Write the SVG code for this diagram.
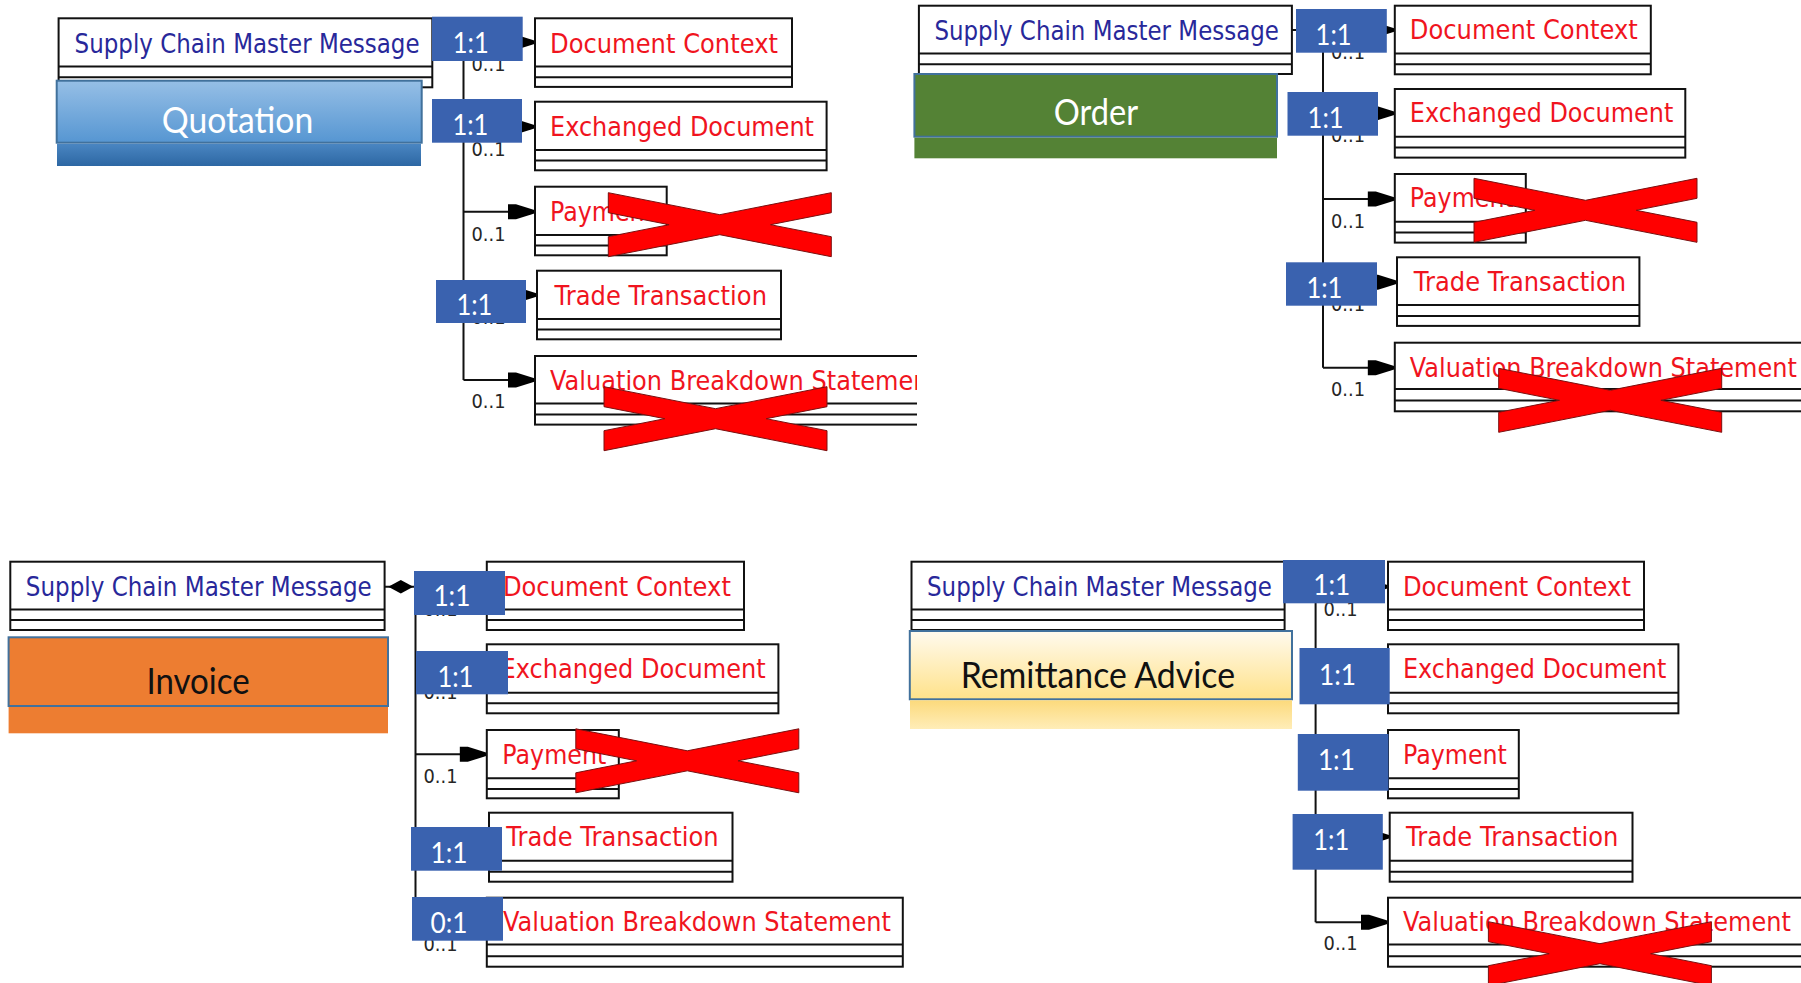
<svg xmlns="http://www.w3.org/2000/svg" xmlns:xlink="http://www.w3.org/1999/xlink" width="1801" height="983" viewBox="0 0 1801 983">
<style>
.box{fill:#fff;stroke:#111;stroke-width:2}
.row{stroke:#111;stroke-width:2}
.scm{font-family:"DejaVu Sans",Verdana,sans-serif;font-size:27px;fill:#28289A}
.red{font-family:"DejaVu Sans",Verdana,sans-serif;font-size:27px;fill:#F0141E}
.card{font-family:"DejaVu Sans",Verdana,sans-serif;font-size:19px;fill:#262626}
.badge{fill:#3A62AF}
.bt{font-family:Lato,"Open Sans",sans-serif;font-size:28px;fill:#fff}
.lbl{font-family:Lato,"Open Sans",sans-serif;font-size:36px}
.conn{stroke:#111;stroke-width:2;fill:none}
.br{stroke:#111;stroke-width:2;fill:none;marker-end:url(#arr)}
.xm{fill:#FF0000;stroke:#7A1010;stroke-width:1}
.lb{stroke:#41719C;stroke-width:2}
</style>
<defs>
<marker id="arr" markerUnits="userSpaceOnUse" viewBox="-28 -8 29 16" markerWidth="29" markerHeight="16" refX="0" refY="0" orient="auto">
<path d="M-27,-7.5 L-19,-7.5 L-3,-2.5 L0,-1.5 L0,1.5 L-3,2.5 L-19,7.5 L-27,7.5 Z" fill="#000"/>
</marker>
<polygon id="xmark" points="0,0 111.5,22 223,0 223,20 162.2,32 223,44 223,64 111.5,42 0,64 0,44 60.8,32 0,20"/>
<linearGradient id="gQ" x1="0" y1="0" x2="0" y2="1"><stop offset="0" stop-color="#96BFE6"/><stop offset="1" stop-color="#5696D2"/></linearGradient>
<linearGradient id="gQ2" x1="0" y1="0" x2="0" y2="1"><stop offset="0" stop-color="#4A86C2"/><stop offset="1" stop-color="#2D67A3"/></linearGradient>
<linearGradient id="gR" x1="0" y1="0" x2="0" y2="1"><stop offset="0" stop-color="#FFFAEE"/><stop offset="1" stop-color="#FFE28A"/></linearGradient>
<linearGradient id="gR2" x1="0" y1="0" x2="0" y2="1"><stop offset="0" stop-color="#FCDA7C"/><stop offset="1" stop-color="#FFEDB8"/></linearGradient>
<clipPath id="clipQ1"><rect x="0" y="0" width="917" height="480"/></clipPath>
</defs>
<rect x="0" y="0" width="1801" height="983" fill="#fff"/>

<!-- connectors -->
<g id="connectors">
 <!-- Q1 -->
 <path class="conn" d="M432,42.3 H463.5 V380"/>
 <path class="br" d="M463.5,42.3 H535"/>
 <path class="br" d="M463.5,126.7 H535"/>
 <path class="br" d="M463.5,211.7 H535"/>
 <path class="br" d="M463.5,295 H537"/>
 <path class="br" d="M463.5,380 H535"/>
 <text class="card" x="471.5" y="71.3" textLength="34" lengthAdjust="spacingAndGlyphs">0..1</text>
 <text class="card" x="471.5" y="155.7" textLength="34" lengthAdjust="spacingAndGlyphs">0..1</text>
 <text class="card" x="471.5" y="241" textLength="34" lengthAdjust="spacingAndGlyphs">0..1</text>
 <text class="card" x="471.5" y="324" textLength="34" lengthAdjust="spacingAndGlyphs">0..1</text>
 <text class="card" x="471.5" y="408" textLength="34" lengthAdjust="spacingAndGlyphs">0..1</text>
 <!-- Q2 -->
 <path class="conn" d="M1292,30 H1323 V367.7"/>
 <path class="br" d="M1323,30 H1394.8"/>
 <path class="br" d="M1323,113.3 H1394.8"/>
 <path class="br" d="M1323,199 H1394.8"/>
 <path class="br" d="M1323,282.3 H1397"/>
 <path class="br" d="M1323,367.7 H1394.8"/>
 <text class="card" x="1331" y="59" textLength="34" lengthAdjust="spacingAndGlyphs">0..1</text>
 <text class="card" x="1331" y="142.3" textLength="34" lengthAdjust="spacingAndGlyphs">0..1</text>
 <text class="card" x="1331" y="228.3" textLength="34" lengthAdjust="spacingAndGlyphs">0..1</text>
 <text class="card" x="1331" y="311.3" textLength="34" lengthAdjust="spacingAndGlyphs">0..1</text>
 <text class="card" x="1331" y="396" textLength="34" lengthAdjust="spacingAndGlyphs">0..1</text>
 <!-- Q3 -->
 <path class="conn" d="M384.6,586.7 H415.5 V922"/>
 <polygon points="388.3,586.7 400.8,580 413.3,586.7 400.8,593.4" fill="#000"/>
 <path class="br" d="M415.5,586.7 H486.8"/>
 <path class="br" d="M415.5,670 H486.8"/>
 <path class="br" d="M415.5,754.3 H486.8"/>
 <path class="br" d="M415.5,837 H489"/>
 <path class="br" d="M415.5,922 H486.8"/>
 <text class="card" x="423.5" y="615.7" textLength="34" lengthAdjust="spacingAndGlyphs">0..1</text>
 <text class="card" x="423.5" y="699" textLength="34" lengthAdjust="spacingAndGlyphs">0..1</text>
 <text class="card" x="423.5" y="783.3" textLength="34" lengthAdjust="spacingAndGlyphs">0..1</text>
 <text class="card" x="423.5" y="866" textLength="34" lengthAdjust="spacingAndGlyphs">0..1</text>
 <text class="card" x="423.5" y="951" textLength="34" lengthAdjust="spacingAndGlyphs">0..1</text>
 <!-- Q4 -->
 <path class="conn" d="M1284.6,586.7 H1315.6 V922.3"/>
 <path class="br" d="M1315.6,586.7 H1388"/>
 <path class="br" d="M1315.6,670 H1388"/>
 <path class="br" d="M1315.6,754.3 H1388"/>
 <path class="br" d="M1315.6,836.7 H1389.7"/>
 <path class="br" d="M1315.6,922.3 H1388"/>
 <text class="card" x="1323.6" y="615.7" textLength="34" lengthAdjust="spacingAndGlyphs">0..1</text>
 <text class="card" x="1323.6" y="699" textLength="34" lengthAdjust="spacingAndGlyphs">0..1</text>
 <text class="card" x="1323.6" y="783.3" textLength="34" lengthAdjust="spacingAndGlyphs">0..1</text>
 <text class="card" x="1323.6" y="865.7" textLength="34" lengthAdjust="spacingAndGlyphs">0..1</text>
 <text class="card" x="1323.6" y="949.5" textLength="34" lengthAdjust="spacingAndGlyphs">0..1</text>
</g>

<!-- ===== Quadrant 1: Quotation ===== -->
<g id="q1">
 <g id="q1-scmm"><rect class="box" x="58.6" y="18.3" width="373.7" height="69"/><line class="row" x1="58.6" y1="66.5" x2="432.3" y2="66.5"/><line class="row" x1="58.6" y1="77.2" x2="432.3" y2="77.2"/><text class="scm" x="74.6" y="53.3" textLength="345" lengthAdjust="spacingAndGlyphs">Supply Chain Master Message</text></g>
 <g id="q1-label"><rect x="56.7" y="80.7" width="365" height="62" fill="url(#gQ)" class="lb"/><rect x="57" y="143.7" width="364" height="22.3" fill="url(#gQ2)"/><text class="lbl" x="161.7" y="132.7" fill="#fff" textLength="151.6" lengthAdjust="spacingAndGlyphs">Quotation</text></g>
 <g id="q1-doc"><rect class="box" x="535" y="18.3" width="257" height="68.6"/><line class="row" x1="535" y1="66.5" x2="792" y2="66.5"/><line class="row" x1="535" y1="77.2" x2="792" y2="77.2"/><text class="red" x="550" y="52.8" textLength="228" lengthAdjust="spacingAndGlyphs">Document Context</text></g>
 <g id="q1-exch"><rect class="box" x="535" y="101.7" width="291.6" height="68.6"/><line class="row" x1="535" y1="149.9" x2="826.6" y2="149.9"/><line class="row" x1="535" y1="160.6" x2="826.6" y2="160.6"/><text class="red" x="550" y="136" textLength="264" lengthAdjust="spacingAndGlyphs">Exchanged Document</text></g>
 <g id="q1-pay"><rect class="box" x="535" y="186.7" width="131.7" height="68.6"/><line class="row" x1="535" y1="234.9" x2="666.7" y2="234.9"/><line class="row" x1="535" y1="245.6" x2="666.7" y2="245.6"/><text class="red" x="550" y="220.5" textLength="104" lengthAdjust="spacingAndGlyphs">Payment</text></g>
 <g id="q1-trade"><rect class="box" x="537" y="270.7" width="244" height="68.6"/><line class="row" x1="537" y1="318.9" x2="781" y2="318.9"/><line class="row" x1="537" y1="329.6" x2="781" y2="329.6"/><text class="red" x="554.5" y="304.5" textLength="212.5" lengthAdjust="spacingAndGlyphs">Trade Transaction</text></g>
 <g id="q1-val" clip-path="url(#clipQ1)"><rect class="box" x="535" y="356" width="420" height="68.6"/><line class="row" x1="535" y1="403.5" x2="955" y2="403.5"/><line class="row" x1="535" y1="414.5" x2="955" y2="414.5"/><text class="red" x="550" y="389.5" textLength="388" lengthAdjust="spacingAndGlyphs">Valuation Breakdown Statement</text></g>
 <g id="q1-m1"><rect class="badge" x="432" y="16.7" width="90.7" height="44.3"/><text class="bt" x="452.7" y="53.3" textLength="36" lengthAdjust="spacingAndGlyphs">1:1</text></g>
 <g id="q1-m2"><rect class="badge" x="432" y="99" width="90" height="43.7"/><text class="bt" x="452.4" y="135.3" textLength="36" lengthAdjust="spacingAndGlyphs">1:1</text></g>
 <g id="q1-m4"><rect class="badge" x="436" y="280" width="90" height="43"/><text class="bt" x="456.4" y="315" textLength="36" lengthAdjust="spacingAndGlyphs">1:1</text></g>
 <use href="#xmark" class="xm" transform="translate(608.3,192.7)"/>
 <use href="#xmark" class="xm" transform="translate(604,386.7)"/>
</g>

<!-- ===== Quadrant 2: Order ===== -->
<g id="q2">
 <g id="q2-scmm"><rect class="box" x="918.9" y="5.7" width="373" height="68.3"/><line class="row" x1="918.9" y1="53.5" x2="1291.9" y2="53.5"/><line class="row" x1="918.9" y1="64.3" x2="1291.9" y2="64.3"/><text class="scm" x="934.4" y="40" textLength="344.5" lengthAdjust="spacingAndGlyphs">Supply Chain Master Message</text></g>
 <g id="q2-label"><rect x="914.4" y="74" width="362.6" height="62.7" fill="#548235" class="lb"/><rect x="914.4" y="137.7" width="362.6" height="20.6" fill="#548235"/><text class="lbl" x="1053.8" y="125" fill="#fff" textLength="84.4" lengthAdjust="spacingAndGlyphs">Order</text></g>
 <g id="q2-doc"><rect class="box" x="1394.8" y="5.7" width="256" height="68.6"/><line class="row" x1="1394.8" y1="53.5" x2="1650.8" y2="53.5"/><line class="row" x1="1394.8" y1="64.3" x2="1650.8" y2="64.3"/><text class="red" x="1409.8" y="38.8" textLength="228" lengthAdjust="spacingAndGlyphs">Document Context</text></g>
 <g id="q2-exch"><rect class="box" x="1394.8" y="89" width="290.5" height="68.6"/><line class="row" x1="1394.8" y1="136.8" x2="1685.3" y2="136.8"/><line class="row" x1="1394.8" y1="147.6" x2="1685.3" y2="147.6"/><text class="red" x="1409.8" y="122" textLength="263.5" lengthAdjust="spacingAndGlyphs">Exchanged Document</text></g>
 <g id="q2-pay"><rect class="box" x="1394.8" y="174" width="131" height="68.6"/><line class="row" x1="1394.8" y1="221.8" x2="1525.8" y2="221.8"/><line class="row" x1="1394.8" y1="232.6" x2="1525.8" y2="232.6"/><text class="red" x="1409.8" y="207" textLength="104" lengthAdjust="spacingAndGlyphs">Payment</text></g>
 <g id="q2-trade"><rect class="box" x="1397" y="257.3" width="242.4" height="68.6"/><line class="row" x1="1397" y1="305.1" x2="1639.4" y2="305.1"/><line class="row" x1="1397" y1="316" x2="1639.4" y2="316"/><text class="red" x="1413.8" y="291" textLength="212.4" lengthAdjust="spacingAndGlyphs">Trade Transaction</text></g>
 <g id="q2-val"><rect class="box" x="1394.8" y="342.7" width="420" height="68.6"/><line class="row" x1="1394.8" y1="389" x2="1814.8" y2="389"/><line class="row" x1="1394.8" y1="400.5" x2="1814.8" y2="400.5"/><text class="red" x="1409.8" y="376.5" textLength="387" lengthAdjust="spacingAndGlyphs">Valuation Breakdown Statement</text></g>
 <g id="q2-m1"><rect class="badge" x="1296" y="9" width="90.8" height="43.7"/><text class="bt" x="1315.6" y="45" textLength="36" lengthAdjust="spacingAndGlyphs">1:1</text></g>
 <g id="q2-m2"><rect class="badge" x="1287.5" y="92" width="90.5" height="43.7"/><text class="bt" x="1307.6" y="128" textLength="36" lengthAdjust="spacingAndGlyphs">1:1</text></g>
 <g id="q2-m4"><rect class="badge" x="1286" y="262.3" width="91" height="43.4"/><text class="bt" x="1306.4" y="298" textLength="36" lengthAdjust="spacingAndGlyphs">1:1</text></g>
 <use href="#xmark" class="xm" transform="translate(1474,178.3)"/>
 <use href="#xmark" class="xm" transform="translate(1498.7,368.3)"/>
</g>

<!-- ===== Quadrant 3: Invoice ===== -->
<g id="q3">
 <g id="q3-scmm"><rect class="box" x="10.3" y="561.7" width="374.3" height="68.3"/><line class="row" x1="10.3" y1="609.4" x2="384.6" y2="609.4"/><line class="row" x1="10.3" y1="620" x2="384.6" y2="620"/><text class="scm" x="25.8" y="595.5" textLength="346" lengthAdjust="spacingAndGlyphs">Supply Chain Master Message</text></g>
 <g id="q3-label"><rect x="8.6" y="637.3" width="379.4" height="68.7" fill="#ED7D31" class="lb"/><rect x="8.6" y="707" width="379.4" height="26.3" fill="#ED7D31"/><text class="lbl" x="146.4" y="694" fill="#111" textLength="103.3" lengthAdjust="spacingAndGlyphs">Invoice</text></g>
 <g id="q3-doc"><rect class="box" x="486.8" y="561.7" width="257.2" height="68.3"/><line class="row" x1="486.8" y1="609.4" x2="744" y2="609.4"/><line class="row" x1="486.8" y1="620" x2="744" y2="620"/><text class="red" x="502.9" y="595.5" textLength="228" lengthAdjust="spacingAndGlyphs">Document Context</text></g>
 <g id="q3-exch"><rect class="box" x="486.8" y="644.3" width="291.6" height="69"/><line class="row" x1="486.8" y1="692.7" x2="778.4" y2="692.7"/><line class="row" x1="486.8" y1="703.3" x2="778.4" y2="703.3"/><text class="red" x="500.6" y="677.5" textLength="265" lengthAdjust="spacingAndGlyphs">Exchanged Document</text></g>
 <g id="q3-pay"><rect class="box" x="486.8" y="730" width="132" height="68.3"/><line class="row" x1="486.8" y1="778.3" x2="618.8" y2="778.3"/><line class="row" x1="486.8" y1="789" x2="618.8" y2="789"/><text class="red" x="502.3" y="764" textLength="104" lengthAdjust="spacingAndGlyphs">Payment</text></g>
 <g id="q3-trade"><rect class="box" x="489" y="812.7" width="243.5" height="69"/><line class="row" x1="489" y1="860.7" x2="732.5" y2="860.7"/><line class="row" x1="489" y1="871.7" x2="732.5" y2="871.7"/><text class="red" x="506.3" y="845.5" textLength="212.4" lengthAdjust="spacingAndGlyphs">Trade Transaction</text></g>
 <g id="q3-val"><rect class="box" x="486.8" y="897.7" width="416" height="69"/><line class="row" x1="486.8" y1="944.5" x2="902.8" y2="944.5"/><line class="row" x1="486.8" y1="956.3" x2="902.8" y2="956.3"/><text class="red" x="502.9" y="931" textLength="388" lengthAdjust="spacingAndGlyphs">Valuation Breakdown Statement</text></g>
 <g id="q3-m1"><rect class="badge" x="414" y="571" width="91" height="44"/><text class="bt" x="433.4" y="606" textLength="37" lengthAdjust="spacingAndGlyphs">1:1</text></g>
 <g id="q3-m2"><rect class="badge" x="416" y="651" width="92" height="43.3"/><text class="bt" x="437.4" y="686.5" textLength="36" lengthAdjust="spacingAndGlyphs">1:1</text></g>
 <g id="q3-m4"><rect class="badge" x="411" y="827" width="91" height="43.7"/><text class="bt" x="430.5" y="863" textLength="37" lengthAdjust="spacingAndGlyphs">1:1</text></g>
 <g id="q3-m5"><rect class="badge" x="412" y="897" width="91" height="43.7"/><text class="bt" x="430.5" y="933" textLength="37" lengthAdjust="spacingAndGlyphs">0:1</text></g>
 <use href="#xmark" class="xm" transform="translate(575.8,728.8)"/>
</g>

<!-- ===== Quadrant 4: Remittance Advice ===== -->
<g id="q4">
 <g id="q4-scmm"><rect class="box" x="911.5" y="561.7" width="373.1" height="68.3"/><line class="row" x1="911.5" y1="609.4" x2="1284.6" y2="609.4"/><line class="row" x1="911.5" y1="620" x2="1284.6" y2="620"/><text class="scm" x="927" y="595.5" textLength="345" lengthAdjust="spacingAndGlyphs">Supply Chain Master Message</text></g>
 <g id="q4-label"><rect x="909.8" y="631" width="382.2" height="68.3" fill="url(#gR)" class="lb"/><rect x="910" y="700.3" width="382" height="28.7" fill="url(#gR2)"/><text class="lbl" x="960.7" y="688.3" fill="#111" textLength="274.3" lengthAdjust="spacingAndGlyphs">Remittance Advice</text></g>
 <g id="q4-doc"><rect class="box" x="1388" y="561.7" width="256" height="68.3"/><line class="row" x1="1388" y1="609.4" x2="1644" y2="609.4"/><line class="row" x1="1388" y1="620" x2="1644" y2="620"/><text class="red" x="1402.9" y="595.5" textLength="228" lengthAdjust="spacingAndGlyphs">Document Context</text></g>
 <g id="q4-exch"><rect class="box" x="1388" y="644.3" width="290.4" height="69"/><line class="row" x1="1388" y1="692.7" x2="1678.4" y2="692.7"/><line class="row" x1="1388" y1="703.3" x2="1678.4" y2="703.3"/><text class="red" x="1402.9" y="677.5" textLength="263.5" lengthAdjust="spacingAndGlyphs">Exchanged Document</text></g>
 <g id="q4-pay"><rect class="box" x="1388" y="730" width="130.8" height="68.3"/><line class="row" x1="1388" y1="778.3" x2="1518.8" y2="778.3"/><line class="row" x1="1388" y1="789" x2="1518.8" y2="789"/><text class="red" x="1402.9" y="764" textLength="104" lengthAdjust="spacingAndGlyphs">Payment</text></g>
 <g id="q4-trade"><rect class="box" x="1389.7" y="812.7" width="242.8" height="69"/><line class="row" x1="1389.7" y1="860.7" x2="1632.5" y2="860.7"/><line class="row" x1="1389.7" y1="871.7" x2="1632.5" y2="871.7"/><text class="red" x="1406" y="845.5" textLength="212.4" lengthAdjust="spacingAndGlyphs">Trade Transaction</text></g>
 <g id="q4-val"><rect class="box" x="1388" y="897.7" width="420" height="69"/><line class="row" x1="1388" y1="944.5" x2="1808" y2="944.5"/><line class="row" x1="1388" y1="956.3" x2="1808" y2="956.3"/><text class="red" x="1402.9" y="931" textLength="388" lengthAdjust="spacingAndGlyphs">Valuation Breakdown Statement</text></g>
 <g id="q4-m1"><rect class="badge" x="1283" y="560" width="102" height="43.3"/><text class="bt" x="1313.3" y="595" textLength="37" lengthAdjust="spacingAndGlyphs">1:1</text></g>
 <g id="q4-m2"><rect class="badge" x="1299.5" y="648" width="90.2" height="56.3"/><text class="bt" x="1319" y="685" textLength="37" lengthAdjust="spacingAndGlyphs">1:1</text></g>
 <g id="q4-m3"><rect class="badge" x="1297.8" y="734" width="90.7" height="56.7"/><text class="bt" x="1317.9" y="770" textLength="37" lengthAdjust="spacingAndGlyphs">1:1</text></g>
 <g id="q4-m4"><rect class="badge" x="1292.6" y="814" width="90.2" height="55.7"/><text class="bt" x="1313.3" y="850" textLength="36" lengthAdjust="spacingAndGlyphs">1:1</text></g>
 <use href="#xmark" class="xm" transform="translate(1488.4,921.7)"/>
</g>
</svg>
